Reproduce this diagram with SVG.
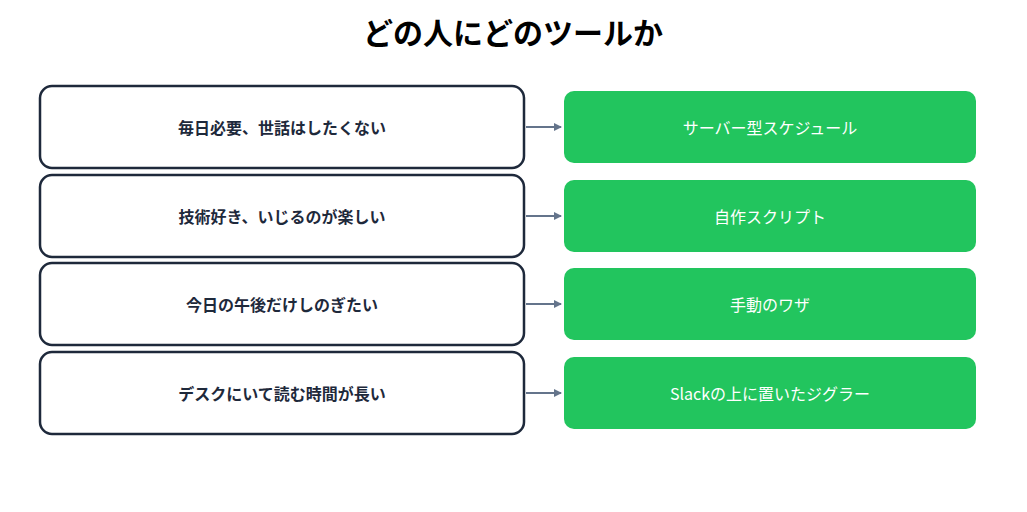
<svg xmlns="http://www.w3.org/2000/svg" width="1027" height="512" viewBox="0 0 1027 512">
<style>
.l{fill:#fff;stroke:#1e293b;stroke-width:2.5}
.r{fill:#22c55e}
.t{font-family:"Noto Sans CJK JP",sans-serif;font-size:16px;text-anchor:middle;dominant-baseline:central}
.lt{fill:#1e293b;font-weight:bold}
.rt{fill:#fff}
.c{stroke:#64748b;stroke-width:2;fill:none;marker-end:url(#a)}
</style>
<defs><marker id="a" markerWidth="8" markerHeight="8" refX="7" refY="4" orient="auto" markerUnits="userSpaceOnUse"><path d="M0,0L8,4L0,8z" fill="#64748b"/></marker></defs>
<rect width="1027" height="512" fill="#fff"/>
<text x="513" y="31" class="t" style="font-size:30px;font-weight:bold;fill:#000">どの人にどのツールか</text>
<g id="q1"><rect class="l" x="40" y="86" width="484" height="82" rx="12"/><text class="t lt" x="282" y="127">毎日必要、世話はしたくない</text></g>
<g id="q2"><rect class="l" x="40" y="175" width="484" height="82" rx="12"/><text class="t lt" x="282" y="216">技術好き、いじるのが楽しい</text></g>
<g id="q3"><rect class="l" x="40" y="263" width="484" height="82" rx="12"/><text class="t lt" x="282" y="304">今日の午後だけしのぎたい</text></g>
<g id="q4"><rect class="l" x="40" y="352" width="484" height="82" rx="12"/><text class="t lt" x="282" y="393">デスクにいて読む時間が長い</text></g>
<g id="a1"><rect class="r" x="564" y="91" width="412" height="72" rx="10"/><text class="t rt" x="770" y="127">サーバー型スケジュール</text></g>
<g id="a2"><rect class="r" x="564" y="180" width="412" height="72" rx="10"/><text class="t rt" x="770" y="216">自作スクリプト</text></g>
<g id="a3"><rect class="r" x="564" y="268" width="412" height="72" rx="10"/><text class="t rt" x="770" y="304">手動のワザ</text></g>
<g id="a4"><rect class="r" x="564" y="357" width="412" height="72" rx="10"/><text class="t rt" x="770" y="393">Slackの上に置いたジグラー</text></g>
<g id="connectors">
<line class="c" x1="526" y1="127" x2="561" y2="127"/>
<line class="c" x1="526" y1="216" x2="561" y2="216"/>
<line class="c" x1="526" y1="304" x2="561" y2="304"/>
<line class="c" x1="526" y1="393" x2="561" y2="393"/>
</g>
</svg>
